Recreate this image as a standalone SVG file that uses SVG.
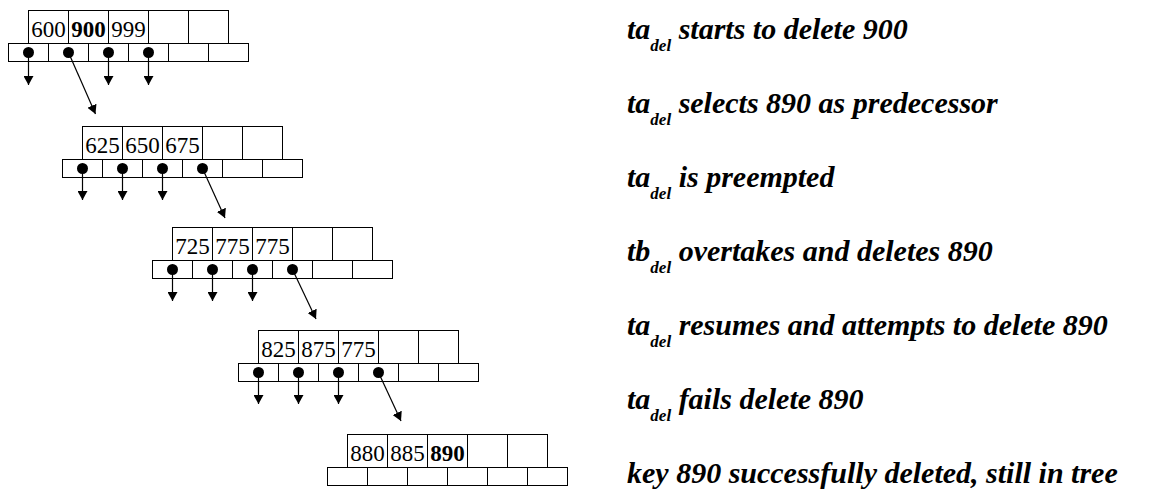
<svg xmlns="http://www.w3.org/2000/svg" width="1156" height="495" viewBox="0 0 1156 495">
  <style>
    .cell { fill: #fff; stroke: #000; stroke-width: 1; }
    .key { font-family: "Liberation Serif", serif; font-size: 23px; fill: #000; text-anchor: middle; }
    .bold { font-weight: bold; }
    .dot { fill: #000; }
    .ptr { stroke: #000; stroke-width: 1.2; fill: none; marker-end: url(#head); }
    .step { font-family: "Liberation Serif", serif; font-size: 30px; font-weight: bold; font-style: italic; fill: #000; }
    .sub { font-size: 17px; }
  </style>
  <defs>
    <marker id="head" markerUnits="userSpaceOnUse" markerWidth="9" markerHeight="10" viewBox="0 0 9 10" refX="9" refY="5" orient="auto">
      <path d="M0,0 L9,5 L0,10 z" fill="#000"/>
    </marker>
    <!-- one B-tree node: 5 key slots above 6 pointer slots -->
    <g id="node-frame">
      <rect class="cell" x="20" y="0" width="40" height="33"/>
      <rect class="cell" x="60" y="0" width="40" height="33"/>
      <rect class="cell" x="100" y="0" width="40" height="33"/>
      <rect class="cell" x="140" y="0" width="40" height="33"/>
      <rect class="cell" x="180" y="0" width="40" height="33"/>
      <rect class="cell" x="0" y="33" width="40" height="18"/>
      <rect class="cell" x="40" y="33" width="40" height="18"/>
      <rect class="cell" x="80" y="33" width="40" height="18"/>
      <rect class="cell" x="120" y="33" width="40" height="18"/>
      <rect class="cell" x="160" y="33" width="40" height="18"/>
      <rect class="cell" x="200" y="33" width="40" height="18"/>
    </g>
    <g id="dots">
      <circle class="dot" cx="20" cy="42" r="5.5"/>
      <circle class="dot" cx="60" cy="42" r="5.5"/>
      <circle class="dot" cx="100" cy="42" r="5.5"/>
      <circle class="dot" cx="140" cy="42" r="5.5"/>
    </g>
  </defs>

  <!-- nodes -->
  <g id="node1" transform="translate(8.5,10.5)">
    <use href="#node-frame"/>
    <use href="#dots"/>
    <text class="key" x="40" y="26">600</text>
    <text class="key bold" x="80" y="26">900</text>
    <text class="key" x="120" y="26">999</text>
  </g>
  <g id="node2" transform="translate(62.5,126.5)">
    <use href="#node-frame"/>
    <use href="#dots"/>
    <text class="key" x="40" y="26">625</text>
    <text class="key" x="80" y="26">650</text>
    <text class="key" x="120" y="26">675</text>
  </g>
  <g id="node3" transform="translate(152.5,227.5)">
    <use href="#node-frame"/>
    <use href="#dots"/>
    <text class="key" x="40" y="26">725</text>
    <text class="key" x="80" y="26">775</text>
    <text class="key" x="120" y="26">775</text>
  </g>
  <g id="node4" transform="translate(238.5,330.5)">
    <use href="#node-frame"/>
    <use href="#dots"/>
    <text class="key" x="40" y="26">825</text>
    <text class="key" x="80" y="26">875</text>
    <text class="key" x="120" y="26">775</text>
  </g>
  <g id="node5" transform="translate(327.5,434.5)">
    <use href="#node-frame"/>
    <text class="key" x="40" y="26">880</text>
    <text class="key" x="80" y="26">885</text>
    <text class="key bold" x="120" y="26">890</text>
  </g>

  <!-- child pointers -->
  <g id="connectors">
    <line class="ptr" x1="28.5" y1="52.5" x2="28.5" y2="85"/>
    <line class="ptr" x1="108.5" y1="52.5" x2="108.5" y2="85"/>
    <line class="ptr" x1="148.5" y1="52.5" x2="148.5" y2="85"/>
    <line class="ptr" x1="68.5" y1="52.5" x2="95.5" y2="114"/>

    <line class="ptr" x1="82.5" y1="168.5" x2="82.5" y2="200"/>
    <line class="ptr" x1="122.5" y1="168.5" x2="122.5" y2="200"/>
    <line class="ptr" x1="162.5" y1="168.5" x2="162.5" y2="200"/>
    <line class="ptr" x1="202.5" y1="168.5" x2="225" y2="218"/>

    <line class="ptr" x1="172.5" y1="269.5" x2="172.5" y2="301"/>
    <line class="ptr" x1="212.5" y1="269.5" x2="212.5" y2="301"/>
    <line class="ptr" x1="252.5" y1="269.5" x2="252.5" y2="301"/>
    <line class="ptr" x1="292.5" y1="269.5" x2="316" y2="319"/>

    <line class="ptr" x1="258.5" y1="372.5" x2="258.5" y2="404"/>
    <line class="ptr" x1="298.5" y1="372.5" x2="298.5" y2="404"/>
    <line class="ptr" x1="338.5" y1="372.5" x2="338.5" y2="404"/>
    <line class="ptr" x1="378.5" y1="372.5" x2="401" y2="421"/>
  </g>

  <!-- step captions -->
  <g id="captions">
    <text class="step" x="627" y="39">ta<tspan class="sub" dy="12">del</tspan><tspan dy="-12"> starts to delete 900</tspan></text>
    <text class="step" x="627" y="113">ta<tspan class="sub" dy="12">del</tspan><tspan dy="-12"> selects 890 as predecessor</tspan></text>
    <text class="step" x="627" y="187">ta<tspan class="sub" dy="12">del</tspan><tspan dy="-12"> is preempted</tspan></text>
    <text class="step" x="627" y="261">tb<tspan class="sub" dy="12">del</tspan><tspan dy="-12"> overtakes and deletes 890</tspan></text>
    <text class="step" x="627" y="335">ta<tspan class="sub" dy="12">del</tspan><tspan dy="-12"> resumes and attempts to delete 890</tspan></text>
    <text class="step" x="627" y="409">ta<tspan class="sub" dy="12">del</tspan><tspan dy="-12"> fails delete 890</tspan></text>
    <text class="step" x="627" y="483">key 890 successfully deleted, still in tree</text>
  </g>
</svg>
